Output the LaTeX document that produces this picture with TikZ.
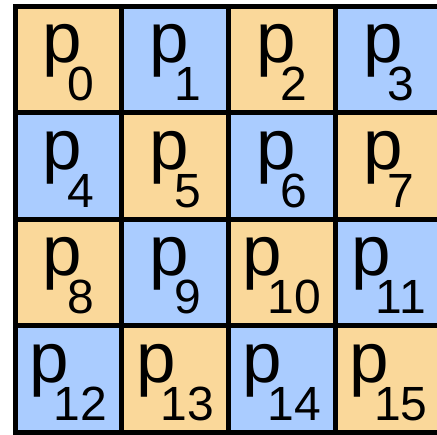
\documentclass[tikz,border=0pt]{standalone}
\usepackage{fontspec}
\setmainfont{Liberation Sans}
\usetikzlibrary{positioning}

\definecolor{cellorange}{RGB}{250,216,154}
\definecolor{cellblue}{RGB}{170,204,255}
\newcommand{\pidx}[1]{p\kern-15pt\raisebox{-38pt}{\fontsize{48}{48}\selectfont #1}}

\begin{document}
\begin{tikzpicture}[
    x=1pt, y=-1pt,
    cell/.style={rectangle, draw=black, line width=5pt, minimum width=106.75pt,
      minimum height=106.5pt, inner sep=0pt, text height=40pt, text depth=34pt,
      font=\fontsize{71}{71}\selectfont}
  ]
  \useasboundingbox (0,0) rectangle (437,435);
  \clip (0,0) rectangle (437,435);

  % 4x4 grid of processes, checkerboard colouring
  \foreach \r in {0,...,3}
    \foreach \c in {0,...,3} {
      \pgfmathtruncatemacro{\k}{4*\r+\c}
      \pgfmathtruncatemacro{\s}{mod(\r+\c,2)}
      \ifodd\s \def\tone{cellblue}\else \def\tone{cellorange}\fi
      \node[cell, fill=\tone] (c\k) at ({15+106.75*(\c+0.5)}, {6.5+106.5*(\r+0.5)}) {\pidx{\k}};
    }
\end{tikzpicture}
\end{document}
